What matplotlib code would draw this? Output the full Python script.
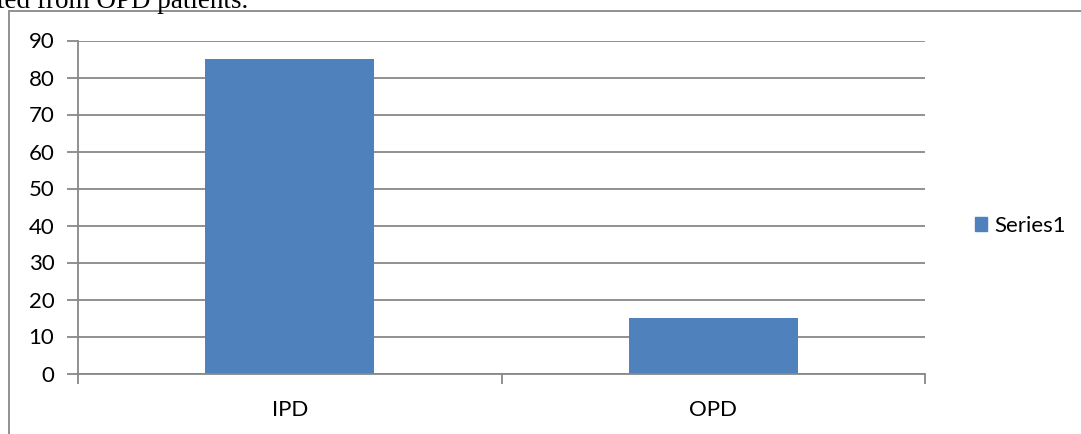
import matplotlib
matplotlib.use("Agg")
import matplotlib.pyplot as plt
from matplotlib.patches import Rectangle

# Data
categories = ["IPD", "OPD"]
values = [85, 15]
series_name = "Series1"
y_ticks = [0, 10, 20, 30, 40, 50, 60, 70, 80, 90]

W, H = 1081, 434
DPI = 100
bar_color = "#4F81BD"
grid_color = "#888888"

plt.rcParams["font.family"] = ["Lato", "DejaVu Sans"]

fig = plt.figure(figsize=(W / DPI, H / DPI), dpi=DPI)

def fx(px):
    return px / W

def fy(py):
    return 1 - py / H

# Caption line of the surrounding document, clipped at the top
fig.text(fx(-3), fy(8.5), "ted from OPD patients.", family="Liberation Serif",
         fontsize=19.5, va="baseline", ha="left", color="black")

# Outer chart frame
frame = Rectangle((fx(9), fy(470)), fx(1200), fy(11) - fy(470),
                  transform=fig.transFigure, fill=False,
                  edgecolor=grid_color, linewidth=1.3, clip_on=False)
fig.patches.append(frame)

# Plot area
ax = fig.add_axes([fx(78), fy(373.5), fx(925) - fx(78), fy(40.5) - fy(373.5)])
x = list(range(len(categories)))
ax.bar(x, values, width=0.4, color=bar_color, zorder=3)
ax.set_xlim(-0.5, len(categories) - 0.5)
ax.set_ylim(0, 90)
ax.set_yticks(y_ticks)
ax.set_yticklabels([str(t) for t in y_ticks])
ax.set_xticks(x)
ax.set_xticklabels(categories)

# Category boundary ticks on the x axis
ax.set_xticks([-0.5 + i for i in range(len(categories) + 1)], minor=True)
ax.tick_params(axis="x", which="major", length=0, pad=19, labelsize=16)
ax.tick_params(axis="x", which="minor", length=7, width=1.3, color=grid_color, direction="out")
ax.tick_params(axis="y", length=8, width=1.3, color=grid_color, pad=9, labelsize=16)

ax.yaxis.grid(True, color=grid_color, linewidth=1.3, zorder=0)
ax.set_axisbelow(True)
for side in ["top", "right"]:
    ax.spines[side].set_visible(False)
ax.spines["left"].set_color(grid_color)
ax.spines["left"].set_linewidth(1.3)
ax.spines["bottom"].set_color(grid_color)
ax.spines["bottom"].set_linewidth(1.3)
ax.spines["bottom"].set_zorder(4)

# Legend
leg = fig.legend(handles=[Rectangle((0, 0), 1, 1, color=bar_color)], labels=[series_name],
                 loc="center left", bbox_to_anchor=(fx(975), fy(226)),
                 frameon=False, fontsize=16, handlelength=0.55, handleheight=0.55,
                 handletextpad=0.3, borderpad=0, borderaxespad=0)

fig.savefig("out.png", dpi=DPI)
